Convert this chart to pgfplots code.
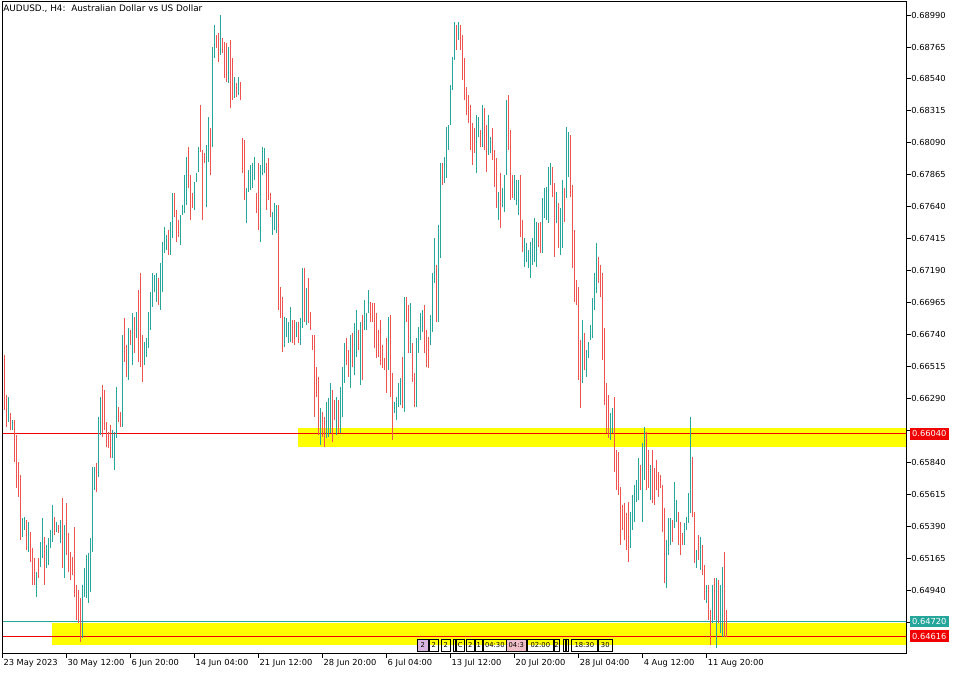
\documentclass[border=0pt]{standalone}
\usepackage{pgfplots}
\pgfplotsset{compat=1.18}
\usepackage{pgfplotstable}
\usepackage{fontspec}
\setmainfont{DejaVu Sans}

\definecolor{bull}{RGB}{38,166,154}
\definecolor{bear}{RGB}{239,83,80}
\definecolor{lvl}{RGB}{240,0,0}
\definecolor{zone}{RGB}{255,255,0}
\definecolor{evpink}{RGB}{240,190,200}
\definecolor{evlilac}{RGB}{215,180,225}

% H4 bars: index, high, low, direction (1 = up, 0 = down)
\pgfplotstableread{
n hi lo c
1 0.66596 0.66208 0
2 0.66314 0.66089 0
3 0.66300 0.66124 1
4 0.66187 0.66068 0
5 0.66138 0.66068 1
6 0.66138 0.65842 0
7 0.66032 0.65659 0
8 0.65842 0.65596 0
9 0.65751 0.65293 0
10 0.65448 0.65314 1
11 0.65455 0.65363 1
12 0.65434 0.65222 0
13 0.65420 0.65208 1
14 0.65349 0.65138 0
15 0.65236 0.64976 0
16 0.65166 0.64976 0
17 0.65067 0.64891 1
18 0.65166 0.65025 0
19 0.65279 0.65103 1
20 0.65448 0.65166 1
21 0.65314 0.64976 0
22 0.65258 0.65096 1
23 0.65307 0.65117 1
24 0.65363 0.65236 1
25 0.65539 0.65279 1
26 0.65455 0.65328 0
27 0.65420 0.65349 1
28 0.65398 0.65342 0
29 0.65434 0.65272 1
30 0.65589 0.65096 0
31 0.65398 0.65025 1
32 0.65553 0.65187 0
33 0.65342 0.65067 0
34 0.65208 0.65011 0
35 0.65173 0.65046 0
36 0.65384 0.64891 0
37 0.64976 0.64729 0
38 0.64941 0.64708 0
39 0.64884 0.64574 0
40 0.64976 0.64603 1
41 0.65096 0.64891 1
42 0.65187 0.64884 1
43 0.65201 0.64849 1
44 0.65307 0.64927 1
45 0.65807 0.65208 1
46 0.65807 0.65645 1
47 0.65835 0.65631 0
48 0.66159 0.65737 1
49 0.66300 0.66032 1
50 0.66384 0.66018 0
51 0.66349 0.66068 0
52 0.66124 0.65948 0
53 0.66053 0.65941 0
54 0.66103 0.65870 0
55 0.66068 0.65870 1
56 0.66053 0.65786 1
57 0.66370 0.66011 1
58 0.66230 0.66124 0
59 0.66194 0.66089 0
60 0.66737 0.66089 1
61 0.66856 0.66546 0
62 0.66666 0.66441 0
63 0.66786 0.66420 1
64 0.66772 0.66666 0
65 0.66892 0.66525 1
66 0.66863 0.66610 0
67 0.66899 0.66715 1
68 0.67054 0.66546 0
69 0.67173 0.66511 0
70 0.66737 0.66406 0
71 0.66687 0.66525 1
72 0.66715 0.66582 1
73 0.66899 0.66645 1
74 0.67039 0.66772 1
75 0.67173 0.66934 1
76 0.67159 0.67039 1
77 0.67173 0.66969 1
78 0.67138 0.66948 0
79 0.67244 0.66913 1
80 0.67392 0.67039 1
81 0.67497 0.67314 1
82 0.67441 0.67335 1
83 0.67476 0.67300 0
84 0.67532 0.67300 1
85 0.67737 0.67420 1
86 0.67737 0.67568 0
87 0.67617 0.67392 0
88 0.67547 0.67427 0
89 0.67582 0.67370 1
90 0.67652 0.67582 1
91 0.67863 0.67596 1
92 0.67990 0.67652 1
93 0.68061 0.67772 0
94 0.67863 0.67547 0
95 0.67737 0.67631 0
96 0.67814 0.67617 1
97 0.67878 0.67814 1
98 0.68061 0.67885 1
99 0.68356 0.68025 0
100 0.68040 0.67547 0
101 0.68018 0.67948 0
102 0.68075 0.67638 1
103 0.68272 0.67955 1
104 0.68194 0.67863 0
105 0.68765 0.68061 1
106 0.68920 0.68688 1
107 0.68849 0.68758 0
108 0.68864 0.68659 0
109 0.68990 0.68709 1
110 0.68828 0.68723 0
111 0.68800 0.68547 0
112 0.68793 0.68518 0
113 0.68765 0.68511 1
114 0.68814 0.68335 0
115 0.68688 0.68392 0
116 0.68554 0.68406 1
117 0.68511 0.68413 0
118 0.68554 0.68427 1
119 0.68518 0.68392 0
120 0.68124 0.67878 0
121 0.68110 0.67687 0
122 0.67772 0.67525 1
123 0.67899 0.67744 1
124 0.67934 0.67758 1
125 0.67948 0.67772 1
126 0.67990 0.67828 1
127 0.67737 0.67596 0
128 0.67948 0.67476 0
129 0.67934 0.67392 1
130 0.68061 0.67863 1
131 0.68054 0.67878 1
132 0.67948 0.67617 0
133 0.67983 0.67687 0
134 0.67737 0.67568 0
135 0.67603 0.67441 1
136 0.67666 0.67476 1
137 0.67652 0.67455 1
138 0.67652 0.66913 0
139 0.67075 0.66856 0
140 0.67004 0.66617 0
141 0.66863 0.66652 1
142 0.66856 0.66722 1
143 0.66828 0.66680 1
144 0.66934 0.66687 1
145 0.66842 0.66680 0
146 0.66842 0.66666 0
147 0.66828 0.66722 1
148 0.66828 0.66680 0
149 0.66856 0.66666 1
150 0.67208 0.66786 1
151 0.67208 0.66828 0
152 0.67068 0.66807 1
153 0.67138 0.66821 0
154 0.66899 0.66772 0
155 0.66737 0.66631 0
156 0.66737 0.66159 0
157 0.66511 0.66300 0
158 0.66441 0.66032 0
159 0.66222 0.65962 1
160 0.66194 0.66018 0
161 0.66159 0.65948 0
162 0.66265 0.66011 1
163 0.66293 0.66018 1
164 0.66399 0.66046 1
165 0.66349 0.65983 0
166 0.66279 0.66138 0
167 0.66300 0.66032 1
168 0.66279 0.66046 0
169 0.66370 0.66046 1
170 0.66511 0.66159 1
171 0.66680 0.66399 1
172 0.66715 0.66525 0
173 0.66631 0.66441 0
174 0.66737 0.66363 1
175 0.66751 0.66511 0
176 0.66821 0.66455 1
177 0.66913 0.66582 1
178 0.66772 0.66631 0
179 0.66828 0.66384 1
180 0.66877 0.66420 0
181 0.66983 0.66772 1
182 0.66892 0.66772 1
183 0.67054 0.66892 1
184 0.66969 0.66828 0
185 0.66962 0.66828 0
186 0.66962 0.66645 0
187 0.66892 0.66575 0
188 0.66772 0.66582 0
189 0.66842 0.66525 0
190 0.66666 0.66504 0
191 0.66575 0.66490 0
192 0.66715 0.66328 0
193 0.66863 0.66490 1
194 0.66877 0.66300 0
195 0.66469 0.65997 0
196 0.66265 0.66187 1
197 0.66300 0.66138 1
198 0.66399 0.66230 1
199 0.66434 0.66244 1
200 0.66582 0.66222 0
201 0.67004 0.66194 1
202 0.67004 0.66828 0
203 0.66948 0.66610 0
204 0.66962 0.66610 1
205 0.66680 0.66406 0
206 0.66469 0.66230 0
207 0.66715 0.66230 1
208 0.66793 0.66610 1
209 0.66892 0.66701 1
210 0.66913 0.66758 1
211 0.66948 0.66610 0
212 0.66772 0.66511 0
213 0.66722 0.66504 0
214 0.66877 0.66666 1
215 0.67173 0.66758 1
216 0.67420 0.67103 1
217 0.67230 0.66828 0
218 0.67511 0.66828 1
219 0.67948 0.67279 1
220 0.67948 0.67793 0
221 0.67990 0.67807 1
222 0.68202 0.67842 1
223 0.68216 0.68040 1
224 0.68497 0.68216 1
225 0.68695 0.68462 1
226 0.68941 0.68673 1
227 0.68920 0.68744 0
228 0.68941 0.68814 1
229 0.68920 0.68744 0
230 0.68849 0.68533 0
231 0.68688 0.68392 0
232 0.68483 0.68286 0
233 0.68427 0.68230 0
234 0.68356 0.68040 0
235 0.68230 0.67934 0
236 0.68194 0.68018 0
237 0.68286 0.67878 1
238 0.68272 0.68131 1
239 0.68180 0.68061 0
240 0.68356 0.68061 1
241 0.68335 0.68040 0
242 0.68216 0.67885 0
243 0.68286 0.68004 1
244 0.68131 0.68018 1
245 0.68194 0.67969 0
246 0.68040 0.67779 0
247 0.67983 0.67631 0
248 0.67744 0.67547 1
249 0.67878 0.67490 0
250 0.67772 0.67638 1
251 0.67863 0.67603 1
252 0.68392 0.67863 1
253 0.68427 0.68040 0
254 0.68180 0.67687 0
255 0.67863 0.67701 0
256 0.67863 0.67687 1
257 0.67828 0.67652 1
258 0.67828 0.67582 1
259 0.67863 0.67427 0
260 0.67547 0.67321 0
261 0.67420 0.67216 1
262 0.67385 0.67251 1
263 0.67335 0.67208 1
264 0.67392 0.67138 1
265 0.67420 0.67230 1
266 0.67561 0.67251 1
267 0.67532 0.67216 1
268 0.67525 0.67356 0
269 0.67532 0.67314 0
270 0.67701 0.67314 1
271 0.67772 0.67561 1
272 0.67779 0.67547 1
273 0.67920 0.67525 1
274 0.67948 0.67793 1
275 0.67920 0.67709 0
276 0.67807 0.67286 0
277 0.67744 0.67525 1
278 0.67666 0.67349 0
279 0.67631 0.67300 1
280 0.67828 0.67349 1
281 0.67772 0.67532 0
282 0.68202 0.67701 1
283 0.68166 0.67849 1
284 0.68145 0.67709 0
285 0.67793 0.67208 0
286 0.67476 0.66969 0
287 0.67124 0.66948 0
288 0.67075 0.66420 0
289 0.66701 0.66222 0
290 0.66842 0.66399 1
291 0.66751 0.66490 0
292 0.66631 0.66441 1
293 0.66687 0.66575 1
294 0.66807 0.66701 1
295 0.66997 0.66715 1
296 0.67173 0.66913 1
297 0.67385 0.67032 1
298 0.67286 0.67103 0
299 0.67230 0.67004 0
300 0.67173 0.66561 0
301 0.66786 0.66244 0
302 0.66399 0.66046 0
303 0.66314 0.66011 0
304 0.66187 0.65997 1
305 0.66222 0.66046 1
306 0.66300 0.65772 0
307 0.65927 0.65645 0
308 0.65913 0.65610 0
309 0.65666 0.65258 0
310 0.65539 0.65363 0
311 0.65553 0.65293 0
312 0.65483 0.65222 0
313 0.65560 0.65138 0
314 0.65490 0.65236 1
315 0.65610 0.65363 1
316 0.65680 0.65420 1
317 0.65715 0.65560 1
318 0.65870 0.65574 1
319 0.65821 0.65645 0
320 0.65976 0.65420 1
321 0.66089 0.65715 1
322 0.66053 0.65645 0
323 0.65927 0.65659 0
324 0.65821 0.65574 1
325 0.65927 0.65553 0
326 0.65800 0.65539 0
327 0.65856 0.65645 0
328 0.65772 0.65596 0
329 0.65751 0.65659 0
330 0.65680 0.65349 0
331 0.65518 0.64990 0
332 0.65293 0.64955 1
333 0.65448 0.65187 1
334 0.65448 0.65258 1
335 0.65434 0.65279 0
336 0.65701 0.65377 1
337 0.65574 0.65420 1
338 0.65490 0.65258 0
339 0.65420 0.65187 0
340 0.65342 0.65258 0
341 0.65413 0.65258 1
342 0.65455 0.65363 1
343 0.65624 0.65413 1
344 0.66159 0.65483 1
345 0.65877 0.65455 0
346 0.65490 0.65131 0
347 0.65222 0.65096 1
348 0.65328 0.65152 0
349 0.65314 0.65081 1
350 0.65258 0.65046 0
351 0.65117 0.64870 0
352 0.64976 0.64849 1
353 0.64976 0.64729 0
354 0.64800 0.64553 0
355 0.64976 0.64708 1
356 0.65025 0.64729 0
357 0.65025 0.64532 1
358 0.65011 0.64708 0
359 0.64976 0.64638 1
360 0.65103 0.64610 1
361 0.65208 0.64610 0
362 0.64800 0.64610 0
}\bars

\begin{document}
\begin{tikzpicture}[font=\fontsize{8.3}{10}\selectfont]
\begin{axis}[
  at={(0,0)}, anchor=south west,
  scale only axis, width=904.4pt, height=651.6pt,
  xmin=0, xmax=452, ymin=0.64495, ymax=0.69084,
  axis on top,
  axis line style={black, line width=0.9pt},
  tick style={black, line width=0.9pt},
  tick align=outside, major tick length=4.5pt,
  ytick pos=right, yticklabel pos=right,
  ytick={0.68990,0.68765,0.68540,0.68315,0.68090,0.67865,0.67640,0.67415,0.67190,0.66965,0.66740,0.66515,0.66290,0.66065,0.65840,0.65615,0.65390,0.65165,0.64940,0.64715},
  % the 0.66065 and 0.64715 marks sit under the price tags
  yticklabels={0.68990,0.68765,0.68540,0.68315,0.68090,0.67865,0.67640,0.67415,0.67190,0.66965,0.66740,0.66515,0.66290,,0.65840,0.65615,0.65390,0.65165,0.64940,},
  xtick pos=bottom,
  xtick={0,32,64,96,128,160,192,224,256,288,320,352},
  xticklabels={23 May 2023,30 May 12:00,6 Jun 20:00,14 Jun 04:00,21 Jun 12:00,28 Jun 20:00,6 Jul 04:00,13 Jul 12:00,20 Jul 20:00,28 Jul 04:00,4 Aug 12:00,11 Aug 20:00},
  xticklabel style={anchor=north west, inner sep=0pt, xshift=1pt, yshift=-1pt},
  yticklabel style={anchor=west, inner sep=0pt},
  every tick label/.append style={font=\fontsize{8.3}{10}\selectfont},
]
% support / resistance zones
\fill[zone] (axis cs:147.6,0.66082) rectangle (axis cs:452,0.65948);
\fill[zone] (axis cs:24.7,0.64705) rectangle (axis cs:452,0.64553);
% horizontal levels
\draw[lvl, line width=1pt] (axis cs:0,0.66040) -- (axis cs:452,0.66040);
\draw[bull, line width=1pt] (axis cs:0,0.64720) -- (axis cs:452,0.64720);
\draw[lvl, line width=1pt] (axis cs:0,0.64616) -- (axis cs:452,0.64616);
% high-low bars
\addplot[bull, line width=1pt, quiver={u=0, v=\thisrow{hi}-\thisrow{lo}},
  restrict expr to domain={\thisrow{c}}{0.5:1.5}]
  table[x=n, y=lo] {\bars};
\addplot[bear, line width=1pt, quiver={u=0, v=\thisrow{hi}-\thisrow{lo}},
  restrict expr to domain={\thisrow{c}}{-0.5:0.5}]
  table[x=n, y=lo] {\bars};
\coordinate (LA) at (axis cs:452,0.66040);
\coordinate (LB) at (axis cs:452,0.64720);
\coordinate (LC) at (axis cs:452,0.64616);
\end{axis}

% symbol caption
\node[anchor=north west, inner sep=0pt, font=\fontsize{8.9}{10}\selectfont] at (0.8pt,648.6pt)
  {AUDUSD., H4:\ \ Australian Dollar vs US Dollar};

% price tags on the right scale
\tikzset{tag/.style={anchor=west, text=white, inner xsep=2pt, inner ysep=0pt,
  minimum height=11.5pt, xshift=3.3pt, font=\fontsize{8.3}{10}\selectfont}}
\node[tag, fill=lvl] at (LA) {0.66040};
\node[tag, fill=bull] at (LB) {0.64720};
\node[tag, fill=lvl] at (LC) {0.64616};

% economic calendar flags along the bottom
\tikzset{ev/.style={draw=black, line width=0.6pt, inner sep=0.6pt,
  minimum height=12.5pt, anchor=south west, font=\fontsize{6.8}{7}\selectfont}}
\node[ev, fill=evlilac, minimum width=11pt] at (414.7pt,1.4pt) {2};
\node[ev, minimum width=9pt]  at (426.7pt,1.4pt) {2};
\node[ev, minimum width=9pt]  at (438.7pt,1.4pt) {2};
\node[ev, minimum width=2pt]  at (450.5pt,1.4pt) {};
\node[ev, minimum width=8pt]  at (453.7pt,1.4pt) {C};
\node[ev, minimum width=8pt]  at (463.7pt,1.4pt) {2};
\node[ev, minimum width=7pt]  at (472.7pt,1.4pt) {1};
\node[ev, minimum width=23pt] at (480.7pt,1.4pt) {04:30};
\node[ev, fill=evpink, minimum width=20pt] at (503.7pt,1.4pt) {04:3};
\node[ev, minimum width=26pt] at (524.7pt,1.4pt) {02:00};
\node[ev, minimum width=5pt]  at (551.2pt,1.4pt) {2};
\node[ev, minimum width=2pt]  at (560.2pt,1.4pt) {};
\node[ev, minimum width=2pt]  at (563.7pt,1.4pt) {};
\node[ev, minimum width=26pt] at (568.7pt,1.4pt) {18:30};
\node[ev, minimum width=14pt] at (595.7pt,1.4pt) {30};

\pgfresetboundingbox
\useasboundingbox (-2.3pt,-21.7pt) rectangle (957.7pt,653.3pt);
\end{tikzpicture}
\end{document}
